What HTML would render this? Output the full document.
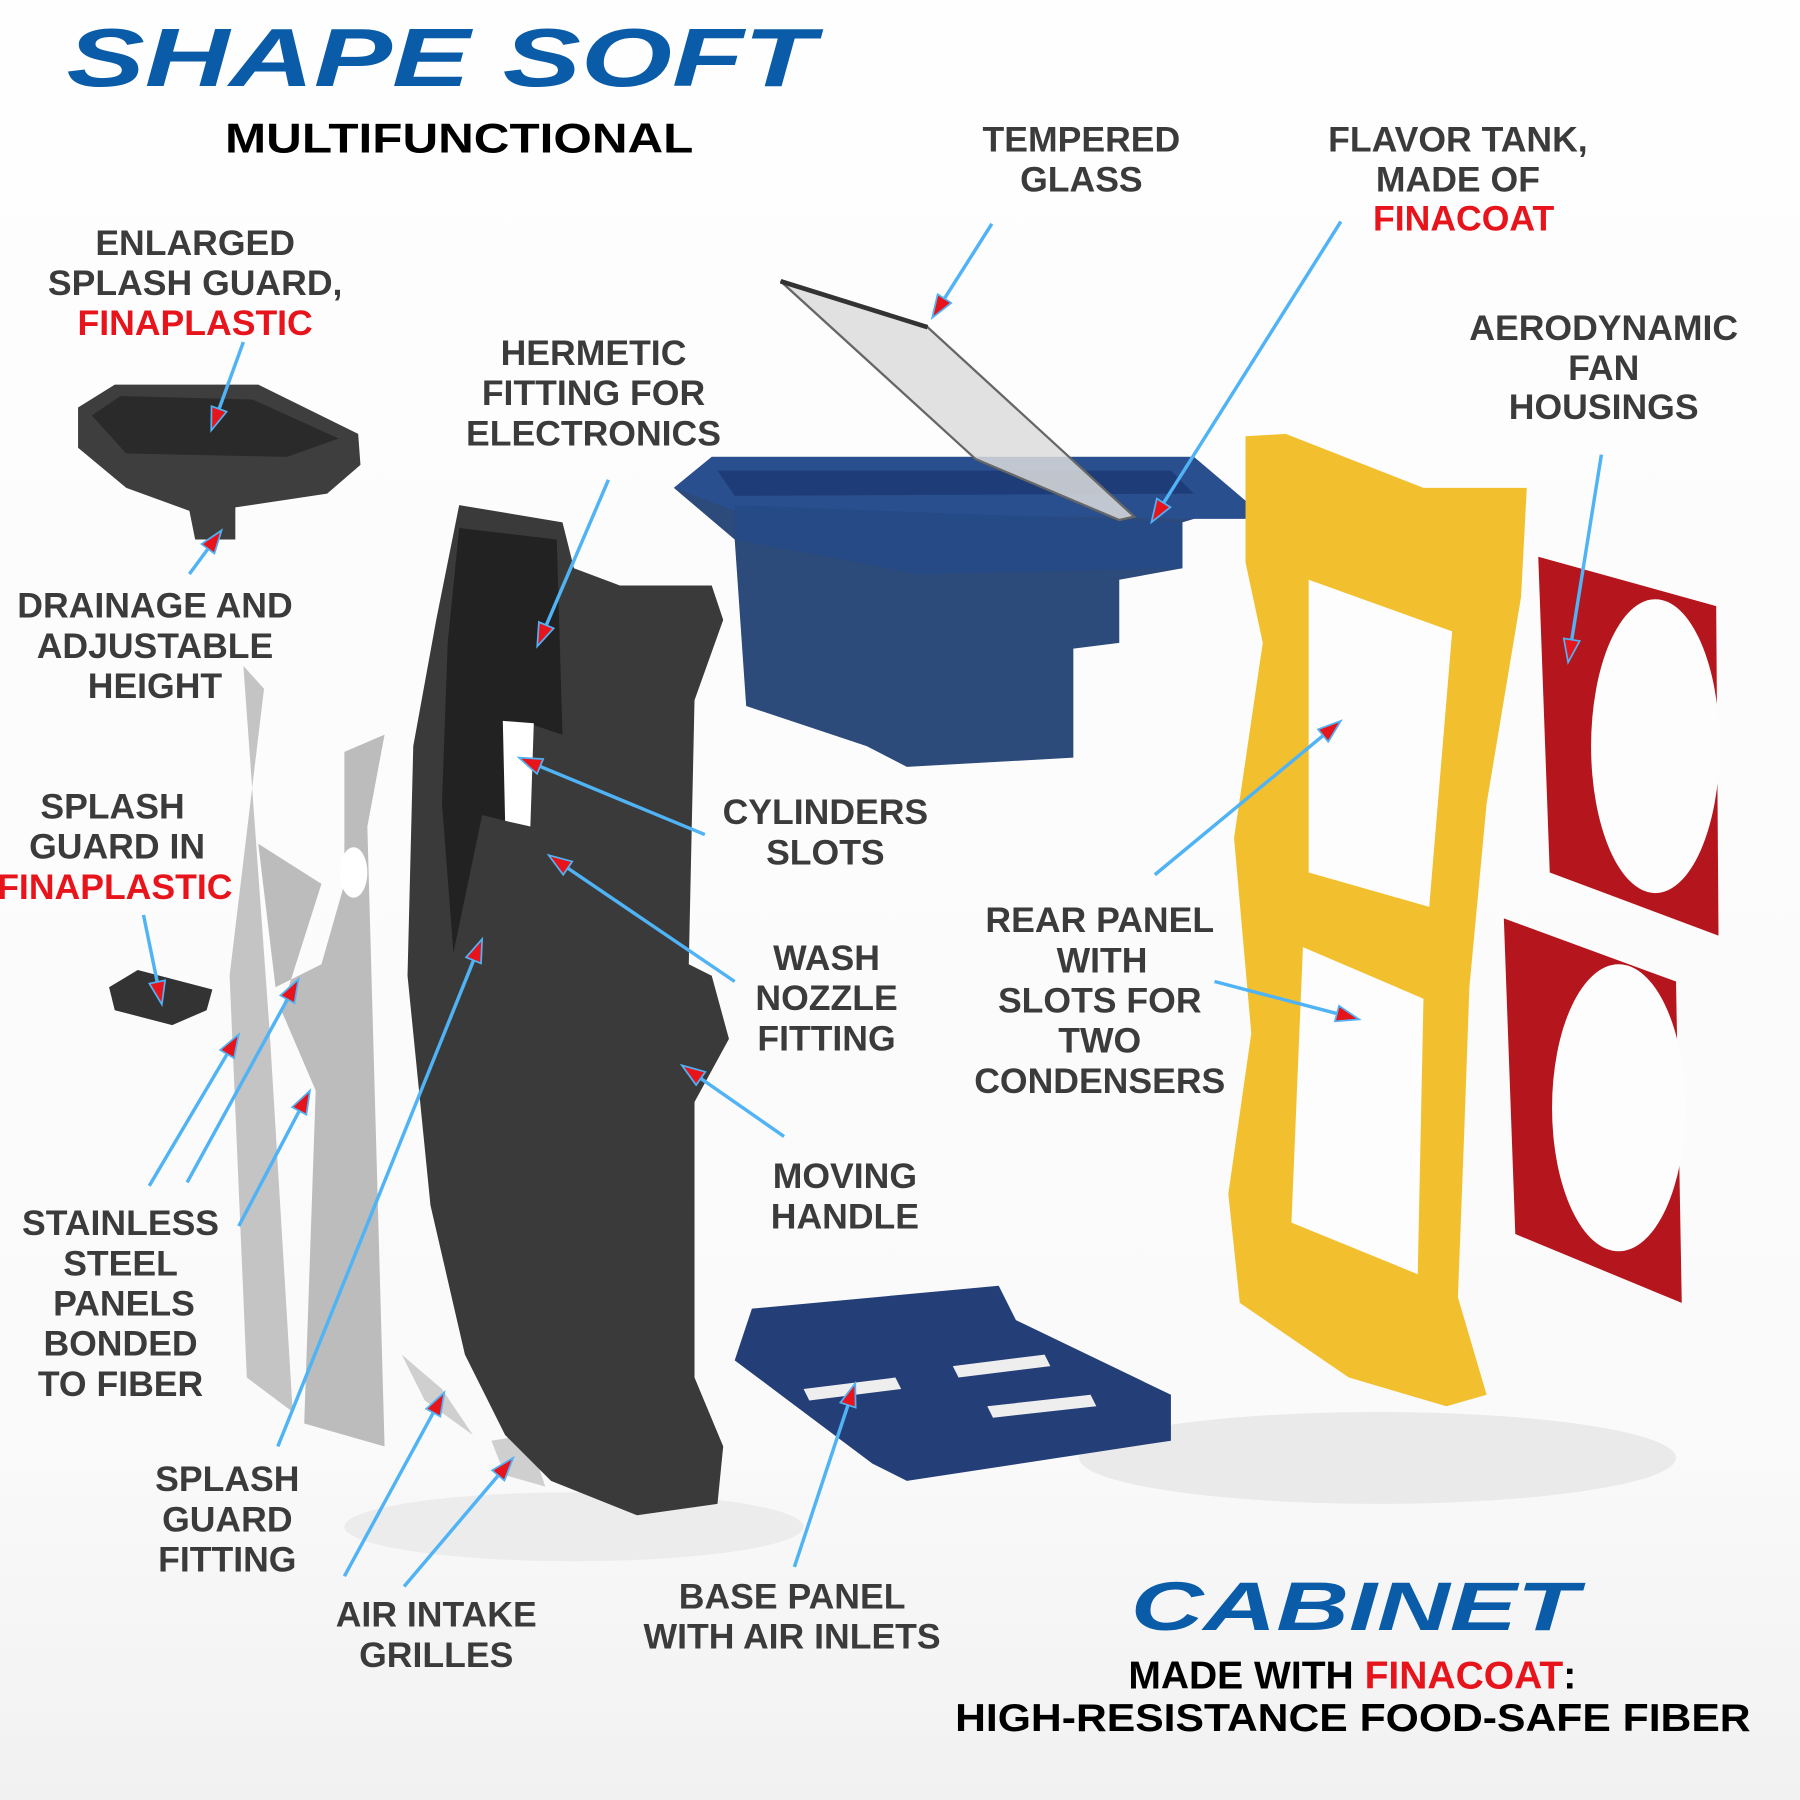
<!DOCTYPE html>
<html><head><meta charset="utf-8"><style>
html,body{margin:0;padding:0;background:#fdfdfd;}
svg{display:block}
.l{font-family:"Liberation Sans Narrow","Liberation Sans",sans-serif;font-weight:bold;font-size:31px;fill:#3b3b3b;text-anchor:middle}
.r{fill:#e8141c}
.a{stroke:#4fb3f5;stroke-width:3;fill:none}
.h{fill:#e8141c;stroke:#4fb3f5;stroke-width:1.5}
</style></head><body>
<svg width="1800" height="1800" viewBox="0 0 1568 1568" xmlns="http://www.w3.org/2000/svg">
<defs>
<linearGradient id="bg" x1="0" y1="0" x2="0" y2="1"><stop offset="0" stop-color="#fefefe"/><stop offset="0.8" stop-color="#fafafa"/><stop offset="1" stop-color="#f1f1f1"/></linearGradient>
</defs>
<rect width="1568" height="1568" fill="url(#bg)"/>

<text x="58" y="75" font-family="Liberation Sans,sans-serif" font-weight="bold" font-style="italic" font-size="72" fill="#0a5ca8" textLength="652" lengthAdjust="spacingAndGlyphs">SHAPE SOFT</text>
<text x="196" y="133" font-family="Liberation Sans,sans-serif" font-weight="bold" font-size="36" fill="#000" textLength="408" lengthAdjust="spacingAndGlyphs">MULTIFUNCTIONAL</text>
<text x="985" y="1420" font-family="Liberation Sans,sans-serif" font-weight="bold" font-style="italic" font-size="60" fill="#0a5ca8" textLength="390" lengthAdjust="spacingAndGlyphs">CABINET</text>
<text x="1178" y="1471" font-family="Liberation Sans,sans-serif" font-weight="bold" font-size="34" fill="#000" text-anchor="middle">MADE WITH <tspan fill="#e8141c">FINACOAT</tspan>:</text>
<text x="832" y="1508" font-family="Liberation Sans,sans-serif" font-weight="bold" font-size="34" fill="#000" textLength="693" lengthAdjust="spacingAndGlyphs">HIGH-RESISTANCE FOOD-SAFE FIBER</text>

<ellipse cx="1200" cy="1270" rx="260" ry="40" fill="#eaeaea"/>
<ellipse cx="500" cy="1330" rx="200" ry="30" fill="#ececec"/>

<!-- blue tank -->
<polygon points="587,425 620,398 1040,398 1087,438 1030,455 1030,495 975,505 975,560 935,565 935,660 790,668 755,650 650,615 640,470" fill="#2c4a7a"/>
<polygon points="587,425 620,398 1040,398 1087,438 1087,452 1030,452 640,445" fill="#2a4f8e"/>
<polygon points="625,410 1020,410 1040,430 640,432" fill="#1e3d78"/>
<polygon points="640,440 1030,455 1030,495 800,500 640,470" fill="#254a86"/>
<!-- glass -->
<polygon points="680,245 808,285 988,450 975,453 850,400" fill="#dcdcdc" fill-opacity="0.85" stroke="#666" stroke-width="2"/>
<line x1="680" y1="245" x2="808" y2="285" stroke="#333" stroke-width="4"/>
<!-- splash guard top -->
<polygon points="68,355 100,335 225,335 312,378 314,405 285,430 205,442 205,470 170,470 165,445 110,425 68,390" fill="#3e3e3e"/>
<polygon points="80,362 105,345 220,348 295,382 250,398 110,395" fill="#2a2a2a"/>
<polygon points="95,860 120,845 185,862 180,880 150,893 100,880" fill="#333"/>
<!-- steel panels -->
<polygon points="212,580 230,600 200,850 215,1200 255,1230 235,900" fill="#c4c4c4"/>
<polygon points="225,735 280,770 245,880 275,950 265,1240 335,1260 320,720 335,640 300,655 300,770 280,840 240,860" fill="#bcbcbc"/>
<ellipse cx="308" cy="760" rx="12" ry="22" fill="#fff"/>
<polygon points="350,1180 385,1210 412,1250 370,1220" fill="#cfcfcf"/>
<polygon points="428,1255 460,1250 475,1295 440,1285" fill="#cfcfcf"/>
<!-- black panel -->
<path d="M400,440 L490,455 L500,495 L540,510 L620,510 L630,540 L605,610 L600,840 L620,850 L635,905 L605,960 L605,1200 L630,1260 L625,1310 L555,1320 L480,1290 L440,1250 L405,1180 L375,1050 L355,850 L360,650 L380,540 Z" fill="#3a3a3a"/>
<path d="M400,460 L485,470 L490,640 L460,630 L460,720 L420,710 L395,830 L385,700 L390,560 Z" fill="#222"/>
<polygon points="438,628 465,630 462,720 440,715" fill="#fff"/>
<!-- yellow frame -->
<path d="M1085,380 L1120,378 L1240,425 L1330,425 L1325,520 L1295,700 L1280,860 L1275,1000 L1270,1130 L1295,1215 L1260,1225 L1175,1200 L1080,1135 L1070,1040 L1090,900 L1075,730 L1100,560 L1085,490 Z" fill="#f2c02e"/>
<path d="M1140,505 L1265,550 L1245,790 L1140,760 Z" fill="#fdfdfd"/>
<path d="M1135,825 L1240,870 L1235,1110 L1125,1065 Z" fill="#fdfdfd"/>
<!-- red fans -->
<polygon points="1340,485 1495,528 1497,815 1350,760" fill="#b5151c"/>
<ellipse cx="1442" cy="650" rx="56" ry="128" fill="#fdfdfd"/>
<polygon points="1310,800 1460,855 1465,1135 1320,1075" fill="#b5151c"/>
<ellipse cx="1410" cy="965" rx="58" ry="125" fill="#fdfdfd"/>
<!-- base panel -->
<polygon points="655,1140 870,1120 885,1150 1020,1215 1020,1255 790,1290 760,1275 640,1185" fill="#243f78"/>
<polygon points="700,1210 780,1200 785,1210 705,1220" fill="#eee"/>
<polygon points="830,1190 910,1180 915,1190 835,1200" fill="#eee"/>
<polygon points="860,1225 950,1215 955,1225 865,1235" fill="#eee"/>

<text class="l"><tspan x="170" y="222">ENLARGED</tspan><tspan x="170" y="257">SPLASH GUARD,</tspan><tspan x="170" y="292" class="r">FINAPLASTIC</tspan></text>
<text class="l"><tspan x="517" y="318">HERMETIC</tspan><tspan x="517" y="353">FITTING FOR</tspan><tspan x="517" y="388">ELECTRONICS</tspan></text>
<text class="l"><tspan x="942" y="132">TEMPERED</tspan><tspan x="942" y="167">GLASS</tspan></text>
<text class="l"><tspan x="1270" y="132">FLAVOR TANK,</tspan><tspan x="1270" y="167">MADE OF</tspan><tspan x="1275" y="201" class="r">FINACOAT</tspan></text>
<text class="l"><tspan x="1397" y="296">AERODYNAMIC</tspan><tspan x="1397" y="331">FAN</tspan><tspan x="1397" y="365">HOUSINGS</tspan></text>
<text class="l"><tspan x="135" y="538">DRAINAGE AND</tspan><tspan x="135" y="573">ADJUSTABLE</tspan><tspan x="135" y="608">HEIGHT</tspan></text>
<text class="l"><tspan x="98" y="713">SPLASH</tspan><tspan x="102" y="748">GUARD IN</tspan><tspan x="100" y="783" class="r">FINAPLASTIC</tspan></text>
<text class="l"><tspan x="719" y="718">CYLINDERS</tspan><tspan x="719" y="753">SLOTS</tspan></text>
<text class="l"><tspan x="720" y="845">WASH</tspan><tspan x="720" y="880">NOZZLE</tspan><tspan x="720" y="915">FITTING</tspan></text>
<text class="l"><tspan x="958" y="812">REAR PANEL</tspan><tspan x="960" y="847">WITH</tspan><tspan x="958" y="882">SLOTS FOR</tspan><tspan x="958" y="917">TWO</tspan><tspan x="958" y="952">CONDENSERS</tspan></text>
<text class="l"><tspan x="736" y="1035">MOVING</tspan><tspan x="736" y="1070">HANDLE</tspan></text>
<text class="l"><tspan x="105" y="1076">STAINLESS</tspan><tspan x="105" y="1111">STEEL</tspan><tspan x="108" y="1146">PANELS</tspan><tspan x="105" y="1181">BONDED</tspan><tspan x="105" y="1216">TO FIBER</tspan></text>
<text class="l"><tspan x="198" y="1299">SPLASH</tspan><tspan x="198" y="1334">GUARD</tspan><tspan x="198" y="1369">FITTING</tspan></text>
<text class="l"><tspan x="380" y="1417">AIR INTAKE</tspan><tspan x="380" y="1452">GRILLES</tspan></text>
<text class="l"><tspan x="690" y="1401">BASE PANEL</tspan><tspan x="690" y="1436">WITH AIR INLETS</tspan></text>

<g id="arrows"></g>
</svg>
<script>
var A=[[212,298,184,375],[165,500,193,462],[530,418,468,563],[864,195,812,277],[1168,193,1003,455],[1395,396,1366,577],[614,727,452,660],[640,855,478,745],[683,990,594,928],[1006,762,1168,628],[1058,855,1184,888],[125,797,141,875],[130,1033,208,901],[163,1030,260,853],[208,1068,270,950],[242,1260,420,818],[300,1373,387,1213],[352,1382,447,1270],[692,1365,745,1205]];
var g=document.getElementById('arrows'),s='';
A.forEach(function(a){var dx=a[2]-a[0],dy=a[3]-a[1],L=Math.hypot(dx,dy),ux=dx/L,uy=dy/L,px=-uy,py=ux,hl=20,hw=7;
var bx=a[2]-ux*hl,by=a[3]-uy*hl;
s+='<line class="a" x1="'+a[0]+'" y1="'+a[1]+'" x2="'+bx+'" y2="'+by+'"/>';
s+='<polygon class="h" points="'+a[2]+','+a[3]+' '+(bx+px*hw)+','+(by+py*hw)+' '+(bx-px*hw)+','+(by-py*hw)+'"/>';});
g.innerHTML=s;
</script>
</body></html>
